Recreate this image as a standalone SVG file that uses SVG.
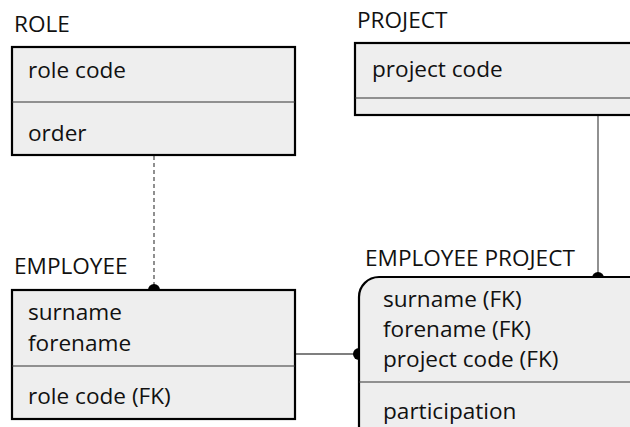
<svg xmlns="http://www.w3.org/2000/svg" width="630" height="427" viewBox="0 0 630 427">
<style>
text{font-family:"Open Sans","Noto Sans","Liberation Sans",sans-serif;font-size:22.6px;fill:#111}
.box{fill:#eeeeee;stroke:#000;stroke-width:2.2}
.div{stroke:#333;stroke-width:1.2}
.conn{stroke:#555;stroke-width:1.3;fill:none}
.dash{stroke-dasharray:4,3}
.dot{fill:#000}
</style>
<rect width="630" height="427" fill="#fff"/>
<g id="connectors">
<line class="conn dash" x1="154" y1="156" x2="154" y2="289"/>
<line class="conn" x1="296" y1="354" x2="359" y2="354"/>
<line class="conn" x1="598" y1="116" x2="598" y2="277"/>
<circle class="dot" cx="154" cy="290" r="6"/>
<circle class="dot" cx="359" cy="354" r="6"/>
<circle class="dot" cx="598" cy="278" r="6"/>
</g>
<g id="role">
<text x="14" y="32">ROLE</text>
<rect class="box" x="12" y="47" width="283" height="108"/>
<line class="div" x1="12" y1="102" x2="295" y2="102"/>
<text x="28" y="78">role code</text>
<text x="28" y="141">order</text>
</g>
<g id="project">
<text x="357" y="28">PROJECT</text>
<rect class="box" x="355" y="43" width="290" height="72"/>
<line class="div" x1="355" y1="98" x2="645" y2="98"/>
<text x="372" y="77">project code</text>
</g>
<g id="employee">
<text x="14" y="274">EMPLOYEE</text>
<rect class="box" x="12" y="290" width="283" height="129"/>
<line class="div" x1="12" y1="366" x2="295" y2="366"/>
<text x="28" y="320">surname</text>
<text x="28" y="351">forename</text>
<text x="28" y="404">role code (FK)</text>
</g>
<g id="employee-project">
<text x="365" y="266">EMPLOYEE PROJECT</text>
<rect class="box" x="359" y="277" width="300" height="170" rx="20" ry="20"/>
<line class="div" x1="359" y1="382" x2="659" y2="382"/>
<text x="383" y="307">surname (FK)</text>
<text x="383" y="337">forename (FK)</text>
<text x="383" y="367">project code (FK)</text>
<text x="383" y="419">participation</text>
</g>
</svg>
